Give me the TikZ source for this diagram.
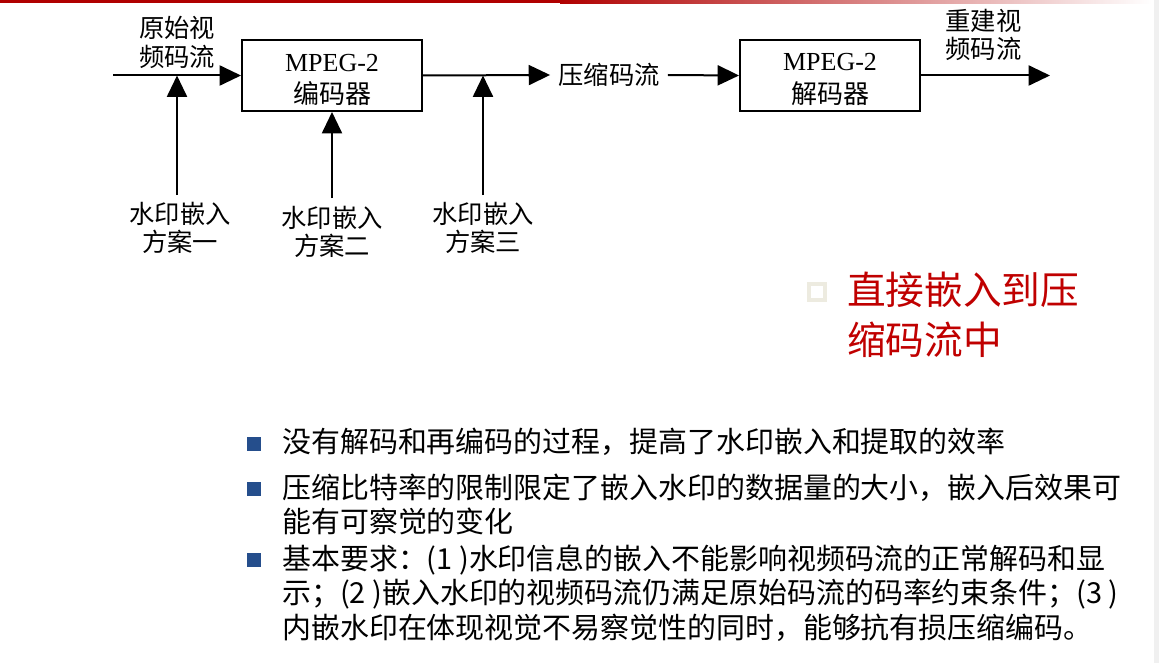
\documentclass[tikz,border=0pt]{standalone}
\usepackage{fontspec}
\setmainfont{Liberation Serif}
\newfontfamily\cjk{Noto Sans CJK SC}
\usetikzlibrary{arrows.meta}
\definecolor{barred}{HTML}{B00000}
\definecolor{txtred}{HTML}{C00000}
\definecolor{bulblue}{HTML}{254E8C}
\definecolor{hollow}{HTML}{EDEBE0}
\definecolor{edgegray}{HTML}{F0F0F0}
\begin{document}
\begin{tikzpicture}[x=0.75pt,y=-0.75pt,
  arr/.style={-{Triangle[length=16pt,width=15pt]}, line width=1.5pt},
  blk/.style={draw, line width=1.5pt, minimum width=135pt, minimum height=53.25pt, inner sep=0pt},
  boxtxt/.style={inner sep=0pt, align=center, font=\fontsize{19.5}{24.5}\selectfont},
  lbl/.style={font=\cjk\fontsize{19}{21.5}\selectfont, align=center, inner sep=0pt},
  redtxt/.style={font=\cjk\fontsize{29}{37.5}\selectfont, text=txtred, inner sep=0pt, anchor=west},
  bultxt/.style={font=\cjk\fontsize{21.7}{26}\selectfont, inner sep=0pt, anchor=west},
  bulsq/.style={fill=bulblue, minimum size=10.1pt, inner sep=0pt}
]
\useasboundingbox (0,0) rectangle (1159,663);
\fill[white] (0,0) rectangle (1159,663);
% top bar
\fill[barred] (0,0) rectangle (560,3.4);
\shade[left color=barred, right color=white] (560,0) rectangle (1152,3.4);
\fill[edgegray] (1154,0) rectangle (1159,663);

% diagram
\node[blk] (enc) at (332,75.5) {};
\node[blk] (dec) at (830,75.5) {};
\node[boxtxt] (enct) at ([yshift=-3.2pt]enc.center) {MPEG-2\\{\cjk 编码器}};
\node[boxtxt] (dect) at ([yshift=-3.2pt]dec.center) {MPEG-2\\{\cjk 解码器}};
\node[lbl, inner xsep=6pt] (cs) at (609,75) {压缩码流};
\node[lbl] (src) at (177,42.5) {原始视\\频码流};
\node[lbl] (rec) at (983.5,35) {重建视\\频码流};
\node[lbl] (l1) at (180,228) {水印嵌入\\方案一};
\node[lbl] (l2) at (332,232) {水印嵌入\\方案二};
\node[lbl] (l3) at (483,228) {水印嵌入\\方案三};

\coordinate (in) at (113,75.5);
\coordinate (out) at (1050,75.5);
\coordinate (t1) at (177,75.5);
\coordinate (s1) at (177,195);
\coordinate (s2) at (332,198);
\coordinate (t3) at (483,75.5);
\coordinate (s3) at (483,195);

\draw[arr] (in) -- (enc.west);
\draw[arr] (enc.east) -- (cs.west);
\draw[arr] (cs.east) -- (dec.west);
\draw[arr] (dec.east) -- (out);
\draw[arr] (s1) -- (t1);
\draw[arr] (s2) -- (enc.south);
\draw[arr] (s3) -- (t3);

% red heading
\draw[hollow, line width=3pt] (809,284) rectangle (825,300);
\node[redtxt] (r1) at (847,290) {直接嵌入到压};
\node[redtxt] (r2) at (847,340) {缩码流中};

% bullets
\node[bulsq] (b1) at (254,444) {};
\node[bulsq] (b2) at (254,489) {};
\node[bulsq] (b3) at (254,560) {};
\node[bultxt] (x1) at (282,442) {没有解码和再编码的过程，提高了水印嵌入和提取的效率};
\node[bultxt] (x2) at (282,488) {压缩比特率的限制限定了嵌入水印的数据量的大小，嵌入后效果可};
\node[bultxt] (x3) at (282,521) {能有可察觉的变化};
\node[bultxt] (x4) at (282,560) {基本要求：(1 )水印信息的嵌入不能影响视频码流的正常解码和显};
\node[bultxt] (x5) at (282,594) {示；(2 )嵌入水印的视频码流仍满足原始码流的码率约束条件；(3 )};
\node[bultxt] (x6) at (282,628) {内嵌水印在体现视觉不易察觉性的同时，能够抗有损压缩编码。};
\end{tikzpicture}
\end{document}
